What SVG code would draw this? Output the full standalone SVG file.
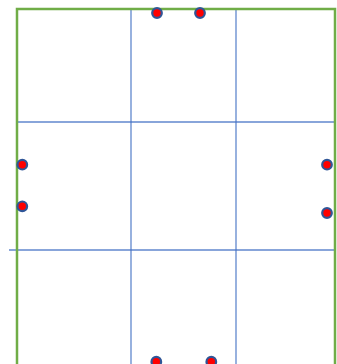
<svg xmlns="http://www.w3.org/2000/svg" width="337" height="364" viewBox="0 0 337 364">
<style>
.grid{stroke:#4472C4;stroke-width:1.3;fill:none;opacity:0.85}
.border{stroke:#70AD47;stroke-width:2.5;fill:none}
.dot{fill:#FF0000;stroke:#2F5597;stroke-width:2.2}
</style>
<rect width="337" height="364" fill="#FFFFFF"/>
<g id="connectors">
<line class="grid" x1="131" y1="9" x2="131" y2="370"/>
<line class="grid" x1="236" y1="9" x2="236" y2="370"/>
<line class="grid" x1="17" y1="122" x2="335" y2="122"/>
<line class="grid" x1="9" y1="250" x2="335" y2="250"/>
</g>
<g id="border">
<path class="border" d="M17,370 L17,9 L335,9 L335,370"/>
</g>
<g id="dot-top-1"><circle class="dot" cx="157" cy="13" r="4.8"/></g>
<g id="dot-top-2"><circle class="dot" cx="200" cy="13" r="4.8"/></g>
<g id="dot-left-1"><circle class="dot" cx="22.3" cy="164.7" r="4.8"/></g>
<g id="dot-left-2"><circle class="dot" cx="22.3" cy="206.3" r="4.8"/></g>
<g id="dot-right-1"><circle class="dot" cx="327" cy="164.7" r="4.8"/></g>
<g id="dot-right-2"><circle class="dot" cx="327" cy="213" r="4.8"/></g>
<g id="dot-bottom-1"><circle class="dot" cx="156.3" cy="361.7" r="4.8"/></g>
<g id="dot-bottom-2"><circle class="dot" cx="211.3" cy="361.7" r="4.8"/></g>
</svg>
